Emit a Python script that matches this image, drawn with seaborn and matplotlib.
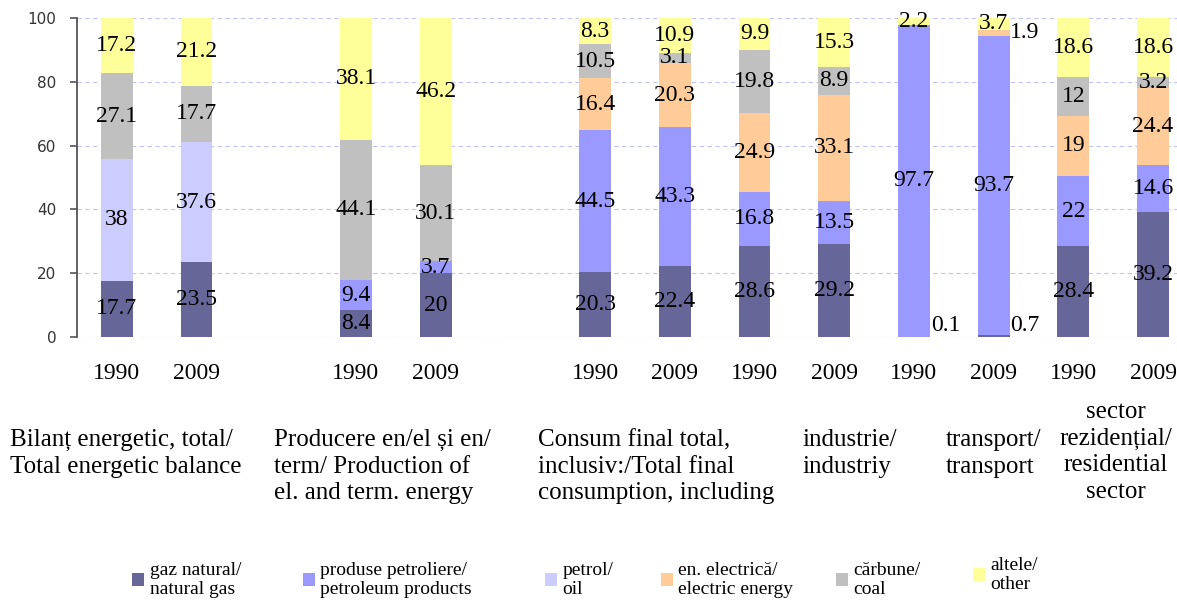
import numpy as np
import pandas as pd
import matplotlib.pyplot as plt
from matplotlib.patches import Patch
import seaborn as sns

sns.set_style("white")
plt.rcParams['font.family'] = ['Liberation Serif', 'DejaVu Serif']
plt.rcParams['text.color'] = 'black'

# one bar per (group, year); empty slots between the three blocks
years = ["1990", "2009"] * 6
positions = [0, 1, 3, 4, 6, 7, 8, 9, 10, 11, 12, 13]

gaz_natural = [17.7, 23.5, 8.4, 20, 20.3, 22.4, 28.6, 29.2, 0.1, 0.7, 28.4, 39.2]
produse_petroliere = [0, 0, 9.4, 3.7, 44.5, 43.3, 16.8, 13.5, 97.7, 93.7, 22, 14.6]
petrol = [38, 37.6, 0, 0, 0, 0, 0, 0, 0, 0, 0, 0]
en_electrica = [0, 0, 0, 0, 16.4, 20.3, 24.9, 33.1, 0, 1.9, 19, 24.4]
carbune = [27.1, 17.7, 44.1, 30.1, 10.5, 3.1, 19.8, 8.9, 0, 0, 12, 3.2]
altele = [17.2, 21.2, 38.1, 46.2, 8.3, 10.9, 9.9, 15.3, 2.2, 3.7, 18.6, 18.6]

series = [gaz_natural, produse_petroliere, petrol, en_electrica, carbune, altele]
legend_labels = ["gaz natural/\nnatural gas", "produse petroliere/\npetroleum products",
                 "petrol/\noil", "en. electrică/\nelectric energy", "cărbune/\ncoal",
                 "altele/\nother"]
colors = ["#666699", "#9999ff", "#ccccff", "#ffcc99", "#c0c0c0", "#ffff99"]

group_labels = ["Bilanț energetic, total/\nTotal energetic balance",
                "Producere en/el și en/\nterm/ Production of\nel. and term. energy",
                "Consum final total,\ninclusiv:/Total final\nconsumption, including",
                "industrie/\nindustriy",
                "transport/\ntransport",
                "sector\nrezidențial/\nresidential\nsector"]

fig = plt.figure(figsize=(11.77, 6.01), dpi=100)
ax = fig.add_axes([0.0654, 0.4393, 0.9346, 0.5308])

bottom = np.zeros(len(positions))
for vals, col in zip(series, colors):
    df = pd.DataFrame({"pos": positions, "val": vals})
    sns.barplot(data=df, x="pos", y="val", native_scale=True, bottom=bottom.copy(),
                color=col, width=0.4, saturation=1, linewidth=0, errorbar=None, ax=ax)
    vals = np.array(vals, dtype=float)
    for i, p in enumerate(positions):
        v = vals[i]
        if v <= 0:
            continue
        txt = f"{v:g}"
        if v < 1:  # tiny natural gas shares in transport, written beside the bar
            ax.text(p + 0.21, 3.5, txt, ha="left", va="center", fontsize=17)
        elif col == "#ffcc99" and v < 2:
            ax.text(p + 0.21, 95.3, txt, ha="left", va="center", fontsize=17)
        else:
            ax.text(p, bottom[i] + v / 2, txt, ha="center", va="center", fontsize=17)
    bottom += vals

ax.set_xlim(-0.5, 13.3)
ax.set_ylim(0, 100)
ax.set_xlabel("")
ax.set_ylabel("")
ax.set_xticks(positions)
ax.set_xticklabels(years, fontsize=17)
ax.tick_params(axis="x", length=0, pad=19, labelcolor="black")
ax.set_yticks(range(0, 101, 20))
ax.tick_params(axis="y", length=5, width=1.2, color="#555555", labelsize=11,
               labelcolor="#333333", left=True, pad=10)
for lab in ax.get_yticklabels():
    lab.set_family("DejaVu Sans")
ax.grid(axis="y", linestyle=(0, (4, 3)), color="#c4c4f4", linewidth=0.8)
ax.set_axisbelow(True)
for s in ["top", "right", "bottom"]:
    ax.spines[s].set_visible(False)
ax.spines["left"].set_color("#555555")
ax.spines["left"].set_linewidth(1.3)

# block captions under the year labels
label_x = [10, 274, 538, 802, 946, 1116]
label_top = [429, 429, 429, 429, 429, 401]
for txt, x, y in zip(group_labels, label_x, label_top):
    ha = "center" if txt.startswith("sector") else "left"
    fig.text(x / 1177, 1 - y / 601, txt, ha=ha, va="top", fontsize=18,
             linespacing=1.27, multialignment="center" if ha == "center" else "left")

# legend entries sit at their own spots along the bottom
legend_x = [132, 303, 545, 661, 836, 973]
legend_y = [580, 580, 580, 580, 580, 575]
for c, lab, x, y in zip(colors, legend_labels, legend_x, legend_y):
    leg = fig.legend([Patch(facecolor=c, edgecolor="none")], [lab], loc="center left",
                     bbox_to_anchor=(x / 1177, 1 - y / 601), frameon=False, fontsize=14,
                     handlelength=0.6, handleheight=0.6, handletextpad=0.3,
                     borderpad=0, borderaxespad=0, labelspacing=0)
    for t in leg.get_texts():
        t.set_linespacing(1.1)

plt.savefig("out.png", dpi=100)
